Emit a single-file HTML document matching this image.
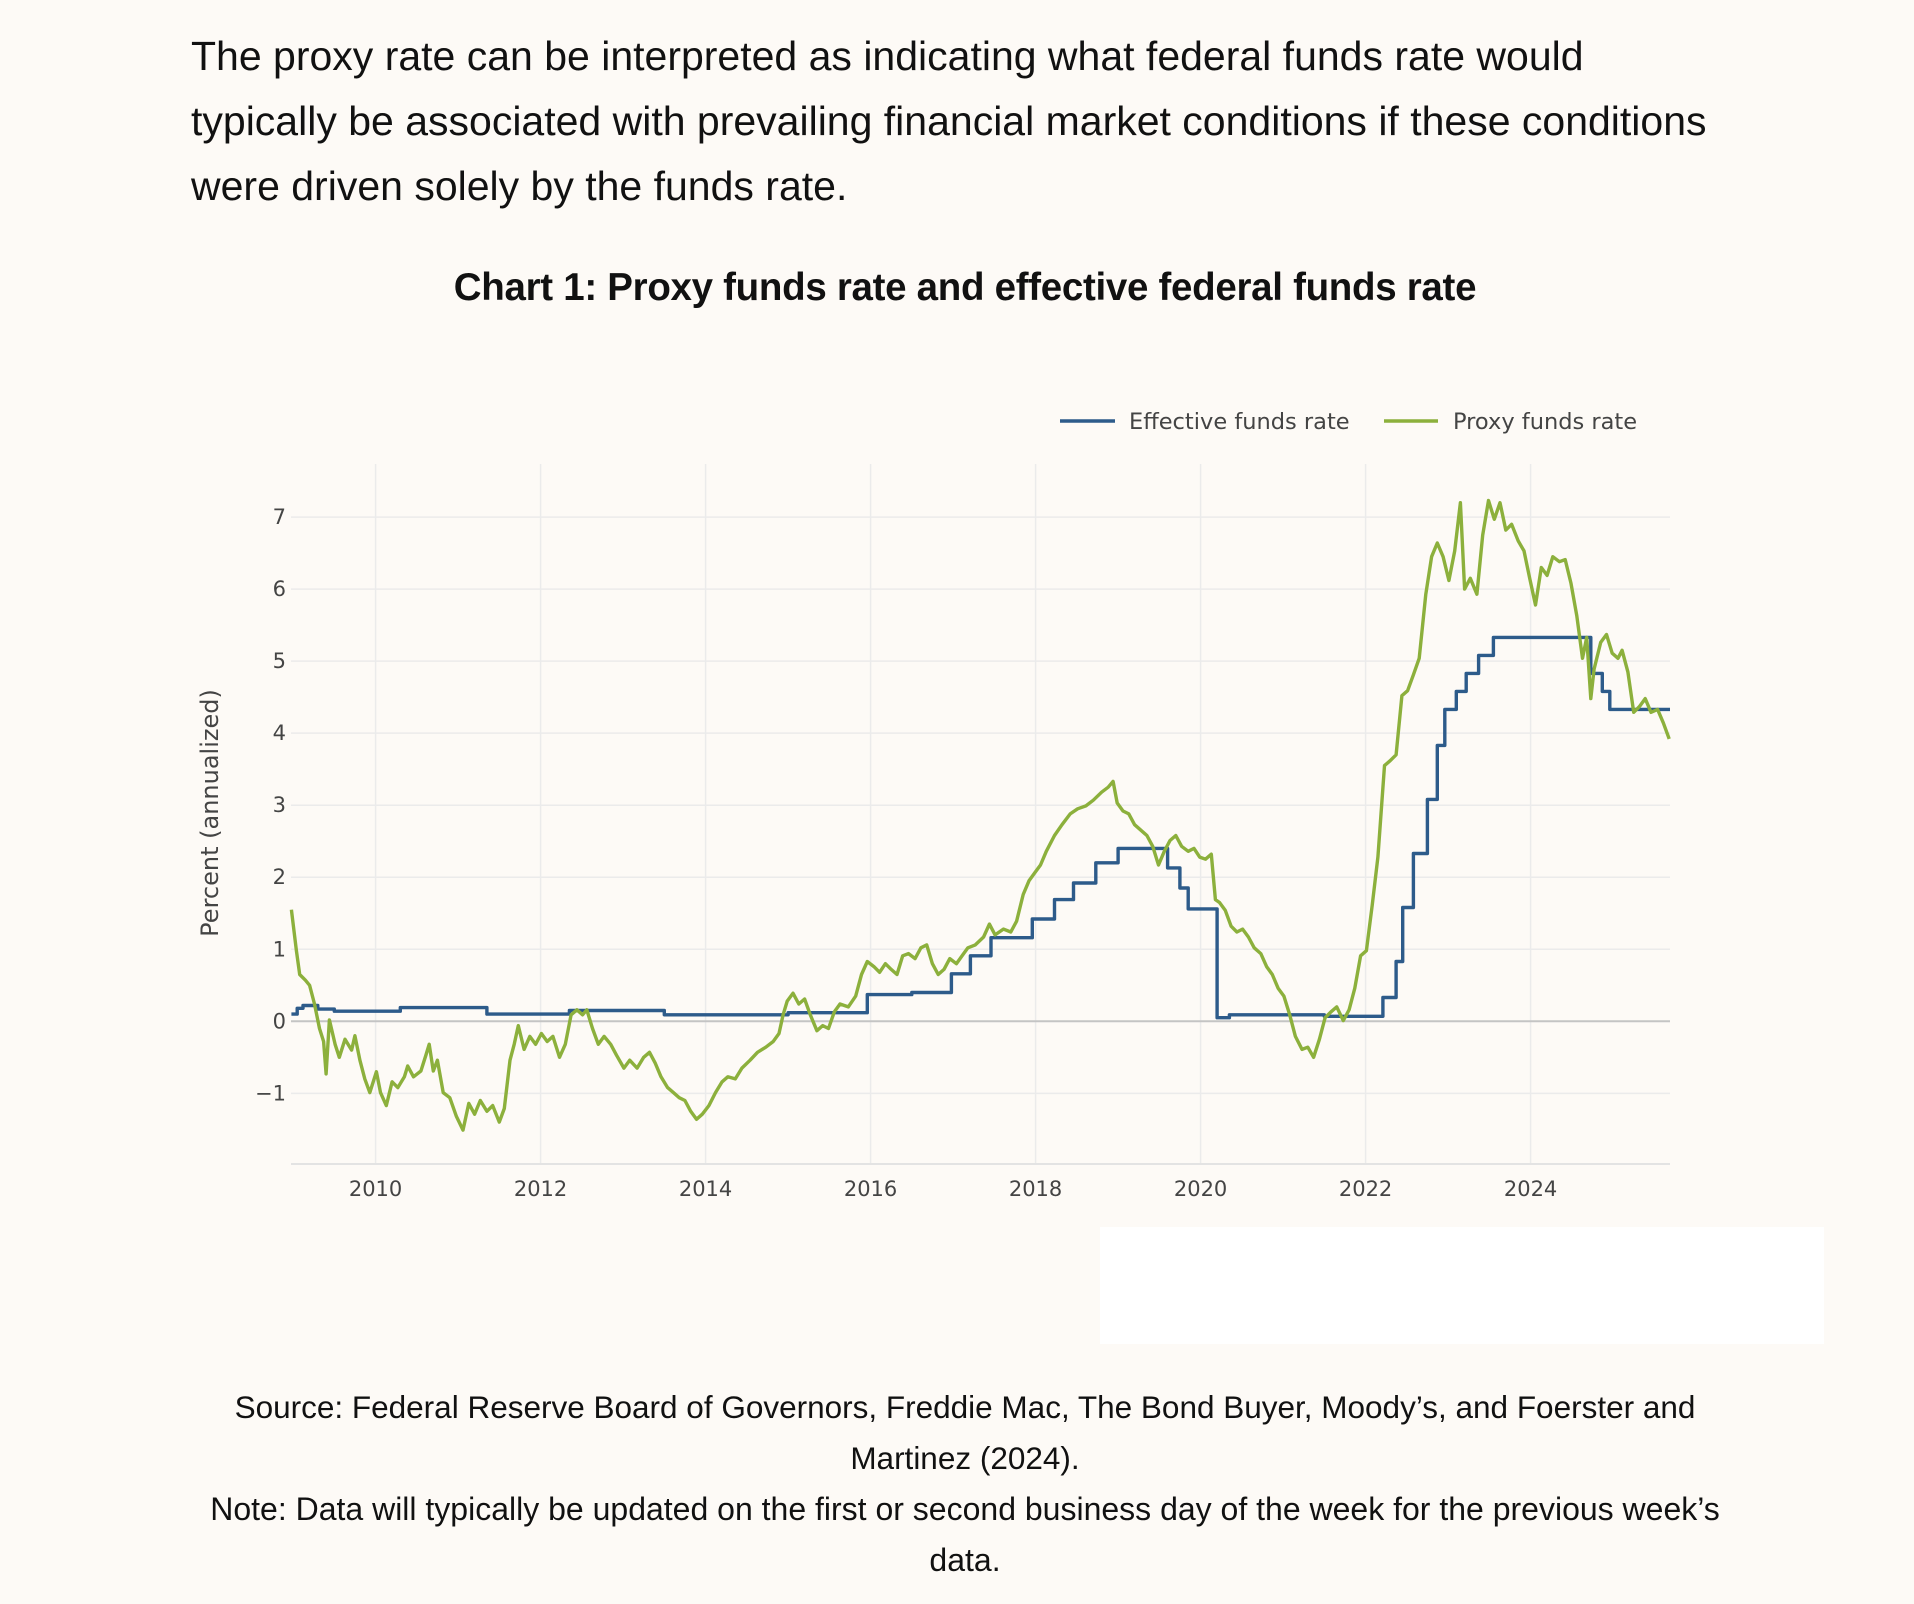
<!DOCTYPE html>
<html><head><meta charset="utf-8">
<style>
html,body{margin:0;padding:0;background:#fdfaf6;}
body{width:1914px;height:1604px;position:relative;overflow:hidden;font-family:"Liberation Sans",sans-serif;color:#111;}
.para{position:absolute;left:191px;top:24px;font-size:41px;line-height:65px;white-space:nowrap;letter-spacing:0px;}
.title{position:absolute;left:0;width:1930px;top:266px;text-align:center;font-size:38.5px;font-weight:bold;letter-spacing:-0.3px;}
.src{position:absolute;left:0;width:1930px;top:1382px;text-align:center;font-size:32px;line-height:51px;white-space:nowrap;}
.src .s1{font-size:31.5px;}
.whitebox{position:absolute;left:1100px;top:1227px;width:724px;height:117px;background:#fff;}
svg{position:absolute;left:0;top:0;}
</style></head>
<body>
<div class="para">The proxy rate can be interpreted as indicating what federal funds rate would<br>typically be associated with prevailing financial market conditions if these conditions<br>were driven solely by the funds rate.</div>
<div class="title">Chart 1: Proxy funds rate and effective federal funds rate</div>
<div class="whitebox"></div>
<svg id="chart" width="1914" height="1604"></svg>
<div class="src"><span class="s1">Source: Federal Reserve Board of Governors, Freddie Mac, The Bond Buyer, Moody’s, and Foerster and<br>Martinez (2024).</span><br>Note: Data will typically be updated on the first or second business day of the week for the previous week’s<br>data.</div>
<script>
const yTicks=[-1,0,1,2,3,4,5,6,7];
const xTicks=[2010,2012,2014,2016,2018,2020,2022,2024];
const proxyDates=[2008.98,2009.04,2009.08,2009.15,2009.2,2009.26,2009.32,2009.37,2009.4,2009.44,2009.51,2009.56,2009.63,2009.71,2009.75,2009.81,2009.87,2009.93,2010.01,2010.06,2010.13,2010.2,2010.27,2010.35,2010.39,2010.46,2010.55,2010.61,2010.65,2010.7,2010.75,2010.82,2010.9,2010.98,2011.06,2011.13,2011.2,2011.27,2011.35,2011.42,2011.5,2011.56,2011.63,2011.68,2011.73,2011.8,2011.87,2011.94,2012.01,2012.08,2012.15,2012.23,2012.3,2012.37,2012.44,2012.51,2012.56,2012.63,2012.7,2012.77,2012.85,2012.92,2013.01,2013.08,2013.17,2013.25,2013.32,2013.39,2013.46,2013.54,2013.61,2013.68,2013.75,2013.82,2013.89,2013.96,2014.04,2014.12,2014.2,2014.27,2014.36,2014.44,2014.54,2014.63,2014.73,2014.82,2014.89,2014.94,2014.99,2015.06,2015.13,2015.2,2015.27,2015.35,2015.42,2015.49,2015.56,2015.63,2015.73,2015.82,2015.89,2015.96,2016.04,2016.11,2016.18,2016.25,2016.32,2016.39,2016.46,2016.54,2016.61,2016.68,2016.75,2016.82,2016.89,2016.96,2017.04,2017.11,2017.18,2017.27,2017.37,2017.44,2017.51,2017.61,2017.7,2017.77,2017.85,2017.92,2017.99,2018.06,2018.13,2018.23,2018.32,2018.42,2018.51,2018.61,2018.7,2018.8,2018.88,2018.94,2018.99,2019.06,2019.13,2019.2,2019.27,2019.35,2019.42,2019.49,2019.56,2019.63,2019.7,2019.77,2019.85,2019.92,2019.99,2020.06,2020.13,2020.18,2020.23,2020.3,2020.37,2020.44,2020.51,2020.58,2020.65,2020.73,2020.8,2020.87,2020.94,2021.01,2021.08,2021.15,2021.23,2021.3,2021.37,2021.44,2021.51,2021.58,2021.65,2021.73,2021.8,2021.87,2021.94,2022.01,2022.08,2022.15,2022.23,2022.3,2022.37,2022.44,2022.51,2022.58,2022.65,2022.73,2022.8,2022.87,2022.94,2023.01,2023.08,2023.15,2023.2,2023.27,2023.35,2023.42,2023.49,2023.56,2023.63,2023.7,2023.77,2023.85,2023.92,2023.99,2024.06,2024.13,2024.2,2024.27,2024.35,2024.42,2024.49,2024.56,2024.63,2024.68,2024.73,2024.77,2024.85,2024.92,2024.99,2025.06,2025.11,2025.18,2025.25,2025.32,2025.39,2025.46,2025.54,2025.61,2025.68];
const proxyValues=[1.55,0.98,0.65,0.57,0.5,0.24,-0.1,-0.28,-0.73,0.02,-0.32,-0.5,-0.25,-0.4,-0.2,-0.54,-0.8,-0.99,-0.7,-0.99,-1.17,-0.84,-0.92,-0.77,-0.62,-0.77,-0.69,-0.47,-0.32,-0.69,-0.54,-0.99,-1.06,-1.32,-1.51,-1.14,-1.29,-1.1,-1.25,-1.17,-1.4,-1.21,-0.54,-0.32,-0.06,-0.39,-0.21,-0.32,-0.17,-0.28,-0.21,-0.5,-0.32,0.09,0.16,0.09,0.16,-0.1,-0.32,-0.21,-0.32,-0.47,-0.65,-0.54,-0.65,-0.5,-0.43,-0.58,-0.77,-0.92,-0.99,-1.06,-1.1,-1.25,-1.36,-1.29,-1.17,-0.99,-0.84,-0.77,-0.8,-0.65,-0.54,-0.43,-0.36,-0.28,-0.17,0.09,0.28,0.39,0.24,0.31,0.09,-0.13,-0.06,-0.1,0.13,0.24,0.2,0.35,0.65,0.83,0.76,0.68,0.8,0.72,0.65,0.91,0.94,0.87,1.02,1.06,0.8,0.65,0.72,0.87,0.8,0.91,1.02,1.06,1.17,1.35,1.2,1.28,1.24,1.39,1.76,1.95,2.06,2.17,2.36,2.58,2.73,2.88,2.95,2.99,3.07,3.18,3.25,3.33,3.03,2.92,2.88,2.73,2.66,2.58,2.43,2.17,2.36,2.51,2.58,2.43,2.36,2.4,2.28,2.25,2.32,1.69,1.65,1.54,1.32,1.24,1.28,1.17,1.02,0.94,0.76,0.65,0.46,0.35,0.09,-0.21,-0.39,-0.36,-0.5,-0.25,0.05,0.13,0.2,0.01,0.16,0.46,0.91,0.98,1.61,2.28,3.55,3.62,3.7,4.52,4.59,4.81,5.04,5.93,6.45,6.64,6.45,6.12,6.53,7.2,6.0,6.15,5.93,6.75,7.23,6.97,7.2,6.82,6.9,6.67,6.53,6.15,5.78,6.3,6.19,6.45,6.38,6.41,6.08,5.63,5.04,5.33,4.48,4.89,5.26,5.37,5.11,5.04,5.15,4.85,4.29,4.37,4.48,4.29,4.33,4.14,3.92];
const effDates=[2008.98,2009.05,2009.12,2009.3,2009.5,2010.3,2011.35,2012.35,2013.5,2015.0,2015.96,2016.5,2016.98,2017.21,2017.46,2017.96,2018.23,2018.46,2018.73,2019.0,2019.6,2019.75,2019.85,2020.2,2020.35,2021.5,2022.21,2022.37,2022.45,2022.58,2022.75,2022.87,2022.96,2023.1,2023.22,2023.37,2023.55,2024.73,2024.87,2024.96];
const effValues=[0.1,0.18,0.22,0.17,0.14,0.19,0.1,0.15,0.09,0.12,0.37,0.4,0.66,0.91,1.16,1.42,1.69,1.92,2.2,2.4,2.13,1.85,1.56,0.05,0.09,0.07,0.33,0.83,1.58,2.33,3.08,3.83,4.33,4.58,4.83,5.08,5.33,4.83,4.58,4.33];
const effEnd=2025.69;
</script>
<script>
(function(){
const NS='http://www.w3.org/2000/svg';
const svg=document.getElementById('chart');
const L=291,R=1670,T=464,B=1164;
const x0=2008.975,x1=2025.69;
const y0px=1021.3,pxPerUnit=72.03;
const X=v=>L+(v-x0)/(x1-x0)*(R-L);
const Y=v=>y0px-v*pxPerUnit;
function el(t,a){const e=document.createElementNS(NS,t);for(const k in a)e.setAttribute(k,a[k]);svg.appendChild(e);return e;}
xTicks.forEach(t=>{
  const g=el('line',{x1:X(t),x2:X(t),y1:T,y2:B,stroke:'#ebebeb','stroke-width':1.5});
  
  
  const lb=el('text',{x:X(t),y:1196,'text-anchor':'middle','font-size':21,fill:'#444','font-family':'DejaVu Sans, sans-serif'});
  lb.textContent=t;
  
  
});
yTicks.forEach(t=>{
  const g=el('line',{x1:L,x2:R,y1:Y(t),y2:Y(t),stroke:t===0?'#c4c4c4':'#ebebeb','stroke-width':t===0?2:1.5});
  
  
  const lb=el('text',{x:286,y:Y(t)+7,'text-anchor':'end','font-size':21,fill:'#444','font-family':'DejaVu Sans, sans-serif'});
  lb.textContent=t<0?'\u2212'+Math.abs(t):t;
  
  
});
const ax=el('line',{x1:L,x2:R,y1:B,y2:B,stroke:'#e3e3e3','stroke-width':2});


const yt=el('text',{x:0,y:0,transform:'translate(218,813) rotate(-90)','text-anchor':'middle','font-size':24,fill:'#444','font-family':'DejaVu Sans, sans-serif'});
yt.textContent='Percent (annualized)';


let d='M'+X(effDates[0])+','+Y(effValues[0]);
for(let i=1;i<effDates.length;i++){d+='H'+X(effDates[i]).toFixed(1)+'V'+Y(effValues[i]).toFixed(1);}
d+='H'+X(effEnd);
const eff=el('path',{d:d,fill:'none',stroke:'#2d5b8a','stroke-width':3.4,'stroke-linejoin':'round'});


let p='';
proxyDates.forEach((t,i)=>{p+=(i?'L':'M')+X(t).toFixed(1)+','+Y(proxyValues[i]).toFixed(1);});
const pr=el('path',{d:p,fill:'none',stroke:'#8cb03c','stroke-width':3.4,'stroke-linejoin':'round'});


const l1=el('line',{x1:1060,x2:1115,y1:421,y2:421,stroke:'#2d5b8a','stroke-width':3.5});


const t1=el('text',{x:1129,y:429,'font-size':22.5,fill:'#444','font-family':'DejaVu Sans, sans-serif'});
t1.textContent='Effective funds rate';


const l2=el('line',{x1:1384,x2:1438,y1:421,y2:421,stroke:'#8cb03c','stroke-width':3.5});


const t2=el('text',{x:1453,y:429,'font-size':22.5,fill:'#444','font-family':'DejaVu Sans, sans-serif'});
t2.textContent='Proxy funds rate';


})();
</script>
</body></html>
